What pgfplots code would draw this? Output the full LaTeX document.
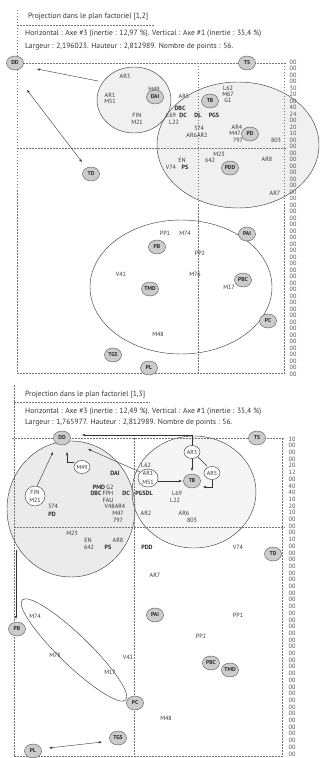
\documentclass[border=0pt]{standalone}
\usepackage{fontspec}
\setmainfont{PT Sans}
\usepackage{pgfplots}
\pgfplotsset{compat=1.18}
\usetikzlibrary{arrows.meta,shapes.geometric}

\tikzset{
  gc/.style={ellipse, draw=black!65, line width=0.45pt, fill=black!20, inner sep=0.2pt,
    minimum width=17pt, minimum height=14pt, font=\fontsize{5.6}{6}\selectfont\bfseries, text=black!85},
  wc/.style={ellipse, draw=black!75, line width=0.45pt, fill=white, inner sep=0.2pt,
    minimum width=16pt, minimum height=13pt, font=\fontsize{5.8}{6}\selectfont, text=black!80},
  nrm/.style={font=\fontsize{6.1}{6}\selectfont, text=black!80},
  bld/.style={font=\fontsize{6.1}{6}\selectfont\bfseries, text=black!85},
  clm/.style={font=\fontsize{6.2}{6}\selectfont, text=black!70},
  dl/.style={black!55, line width=0.4pt, dash pattern=on 1.5pt off 1.5pt},
  ar/.style={black!80, line width=0.4pt, -{Stealth[length=3.5pt,width=2.4pt]}},
  dar/.style={black!80, line width=0.4pt, {Stealth[length=3.5pt,width=2.4pt]}-{Stealth[length=3.5pt,width=2.4pt]}},
  hd/.style={font=\fontsize{7.6}{8}\selectfont, text=black!80, anchor=west, inner sep=0pt},
  ell/.style={black!75, line width=0.45pt},
}
\pgfplotsset{
  panel/.style={scale only axis, width=320pt, xmin=0, xmax=320, hide axis, clip=false},
  lab/.style={only marks, mark=none, point meta=explicit symbolic, nodes near coords,
    every node near coord/.append style={anchor=center, inner sep=0pt, #1}},
}

\begin{document}
\begin{tikzpicture}
\path[use as bounding box] (0pt,-388pt) rectangle (320pt,370pt);

% ---------- plan factoriel [1,2]
\begin{axis}[panel, height=370pt, ymin=-370, ymax=0]
\fill[black!6] (axis cs:134,-100) ellipse [x radius=37pt, y radius=33pt];
\fill[black!6] (axis cs:238,-145) ellipse [x radius=81pt, y radius=63pt];
\draw[ell] (axis cs:134,-100) ellipse [x radius=37pt, y radius=33pt];
\draw[ell] (axis cs:238,-145) ellipse [x radius=81pt, y radius=63pt];
\draw[ell] (axis cs:181,-287) ellipse [x radius=91pt, y radius=67pt];

\draw[dl] (axis cs:17,-10) -- (axis cs:17,-373);
\draw[dl] (axis cs:17,-25) -- (axis cs:155,-25);
\draw[dl] (axis cs:17,-63) -- (axis cs:286,-63);
\draw[dl] (axis cs:198,-63) -- (axis cs:198,-373);
\draw[dl] (axis cs:17,-148) -- (axis cs:286,-148);
\draw[dl] (axis cs:284,-63) -- (axis cs:284,-374);
\draw[dl] (axis cs:17,-373) -- (axis cs:284,-373);

\node[hd] at (axis cs:28,-17) {Projection dans le plan factoriel [1,2]};
\node[hd] at (axis cs:25,-34) {Horizontal : Axe \#3 (inertie : 12,97 \%). Vertical : Axe \#1 (inertie : 35,4 \%)};
\node[hd] at (axis cs:25,-47) {Largeur : 2,196023. Hauteur : 2,812989. Nombre de points : 56.};

\draw[ar] (axis cs:98,-81) -- (axis cs:37,-69);
\draw[dar] (axis cs:27,-90) -- (axis cs:82,-162);

\addplot[lab=nrm] table[meta=l] {
x y l
125 -76 AR3
154 -89 M49
110 -95 AR1
110 -101 M51
137 -115 FIN
137 -122 M21
184 -96 AR5
228 -88 L62
228 -94 M67
228 -100 G1
171 -115 L69
174 -122 L22
199 -128 374
197 -135 AR6AR2
237 -127 AR4
235 -133 M47
238 -140 797
276 -140 803
219 -154 M23
182 -160 EN
210 -160 642
267 -159 AR8
171 -167 V74
275 -193 AR7
165 -233 PP1
185 -233 M74
200 -253 PP2
121 -274 V41
195 -274 M76
229 -287 M17
158 -334 M48
};
\addplot[lab=bld] table[meta=l] {
x y l
180 -108 DBC
183 -115 DC
198 -115 DL
214 -115 PGS
185 -167 PS
};
\addplot[lab=gc] table[meta=l] {
x y l
15 -63 DD
247 -63 TS
155 -97 DAI
210 -101 TB
250 -134 PD
230 -168 PDD
91 -174 TD
247 -234 PAI
157 -247 PB
243 -280 PBC
150 -289 TMD
268 -321 PC
113 -355 TGS
149 -368 PL
};
\addplot[lab=clm] table[meta=l] {
x y l
293 -62 00
293 -68.5 00
293 -75 00
293 -81.5 00
293 -88 30
293 -94.5 20
293 -101 00
293 -107.5 40
293 -114 24
293 -120.5 00
293 -127 20
293 -133.5 10
293 -140 00
293 -146.5 00
293 -153 00
293 -159.5 00
293 -166 00
293 -172.5 00
293 -179 00
293 -185.5 00
293 -192 00
293 -198.5 00
293 -205 00
293 -211.5 00
293 -218 00
293 -224.5 00
293 -231 00
293 -237.5 00
293 -244 00
293 -250.5 00
293 -257 00
293 -263.5 00
293 -270 00
293 -276.5 00
293 -283 00
293 -289.5 00
293 -296 00
293 -302.5 00
293 -309 00
293 -315.5 00
293 -322 00
293 -328.5 00
293 -335 00
293 -341.5 00
293 -348 00
293 -354.5 00
293 -361 00
293 -367.5 00
293 -374 00
};
\end{axis}

% ---------- plan factoriel [1,3]
\begin{axis}[panel, height=388pt, ymin=-758, ymax=-370, at={(0pt,-388pt)}]
\fill[black!8] (axis cs:71,-509) ellipse [x radius=64pt, y radius=68pt];
\fill[black!4] (axis cs:194,-492) ellipse [x radius=62pt, y radius=56pt];
\draw[ell] (axis cs:71,-509) ellipse [x radius=64pt, y radius=68pt];
\draw[ell] (axis cs:194,-492) ellipse [x radius=62pt, y radius=56pt];
\draw[ell, rotate around={-44:(axis cs:74,-650)}] (axis cs:74,-650) ellipse [x radius=72pt, y radius=15pt];
\draw[ell, fill=white] (axis cs:148,-478) ellipse [x radius=10pt, y radius=9pt];
\draw[ell, fill=white] (axis cs:35,-496) ellipse [x radius=10pt, y radius=10pt];

\draw[dl] (axis cs:14,-385) -- (axis cs:14,-756);
\draw[dl] (axis cs:14,-402) -- (axis cs:150,-402);
\draw[dl] (axis cs:12,-438) -- (axis cs:285,-438);
\draw[dl] (axis cs:134,-438) -- (axis cs:134,-756);
\draw[dl] (axis cs:14,-527) -- (axis cs:285,-527);
\draw[dl] (axis cs:282,-438) -- (axis cs:282,-757);
\draw[dl] (axis cs:14,-756) -- (axis cs:282,-756);

\node[hd] at (axis cs:25,-395) {Projection dans le plan factoriel [1,3]};
\node[hd] at (axis cs:25,-412) {Horizontal : Axe \#3 (inertie : 12,49 \%). Vertical : Axe \#1 (inertie : 35,4 \%)};
\node[hd] at (axis cs:25,-423) {Largeur : 1,765977. Hauteur : 2,812989. Nombre de points : 56.};

\draw[ar] (axis cs:192,-446) -- (axis cs:192,-435) -- (axis cs:82,-435);
\draw[ar] (axis cs:140,-472) -- (axis cs:88,-449);
\draw[ar] (axis cs:37,-486) -- (axis cs:53,-452);
\draw[ar] (axis cs:74,-462) -- (axis cs:67,-462) -- (axis cs:67,-452);
\draw[ar] (axis cs:158,-481) -- (axis cs:182,-481);
\draw[ar] (axis cs:192,-458) -- (axis cs:192,-471);
\draw[black!80, line width=0.4pt] (axis cs:198,-457) -- (axis cs:207,-466);
\draw[ar] (axis cs:212,-480) -- (axis cs:212,-487) -- (axis cs:203,-487);
\draw[ar] (axis cs:16,-550) -- (axis cs:16,-619);
\draw[dar] (axis cs:49,-748) -- (axis cs:102,-742);

\addplot[lab=nrm] table[meta=l] {
x y l
146 -465 L62
148 -473 AR1
148 -482 M51
110 -487 G2
108 -493 FPH
177 -493 L69
108 -500 FAU
175 -500 L22
53 -506 374
115 -506 V48AR4
118 -513 M47
146 -513 AR2
184 -513 AR6
118 -520 797
192 -520 803
72 -533 M23
88 -540 EN
118 -540 AR8
89 -547 642
238 -547 V74
155 -575 AR7
35 -616 M74
238 -615 PP1
201 -636 PP2
55 -655 M75
128 -657 V41
110 -672 M17
166 -718 M48
35 -492 FIN
35 -500 M21
};
\addplot[lab=bld] table[meta=l] {
x y l
115 -473 DAI
99 -487 PMD
96 -493 DBC
126 -493 DC
144 -493 PGSDL
52 -514 PD
108 -547 PS
147 -547 PDD
};
\addplot[lab=wc] table[meta=l] {
x y l
82 -467 M49
192 -452 AR3
212 -473 AR5
};
\addplot[lab=gc] table[meta=l] {
x y l
62 -438 DD
257 -438 TS
192 -481 TB
273 -554 TD
155 -615 PAI
17 -629 PB
211 -663 PBC
230 -670 TMD
135 -703 PC
118 -738 TGS
33 -751 PL
};
\addplot[lab=clm] table[meta=l] {
x y l
292 -439 10
292 -445.7 00
292 -452.4 00
292 -459.1 00
292 -465.8 20
292 -472.5 12
292 -479.2 00
292 -485.9 40
292 -492.6 40
292 -499.3 10
292 -506 20
292 -512.7 10
292 -519.4 00
292 -526.1 00
292 -532.8 00
292 -539.5 10
292 -546.2 00
292 -552.9 00
292 -559.6 00
292 -566.3 00
292 -573 00
292 -579.7 00
292 -586.4 00
292 -593.1 00
292 -599.8 00
292 -606.5 00
292 -613.2 00
292 -619.9 00
292 -626.6 00
292 -633.3 00
292 -640 00
292 -646.7 00
292 -653.4 00
292 -660.1 00
292 -666.8 00
292 -673.5 00
292 -680.2 00
292 -686.9 00
292 -693.6 00
292 -700.3 00
292 -707 00
292 -713.7 00
292 -720.4 00
292 -727.1 00
292 -733.8 00
292 -740.5 00
292 -747.2 00
292 -753.9 00
};
\end{axis}
\end{tikzpicture}
\end{document}
